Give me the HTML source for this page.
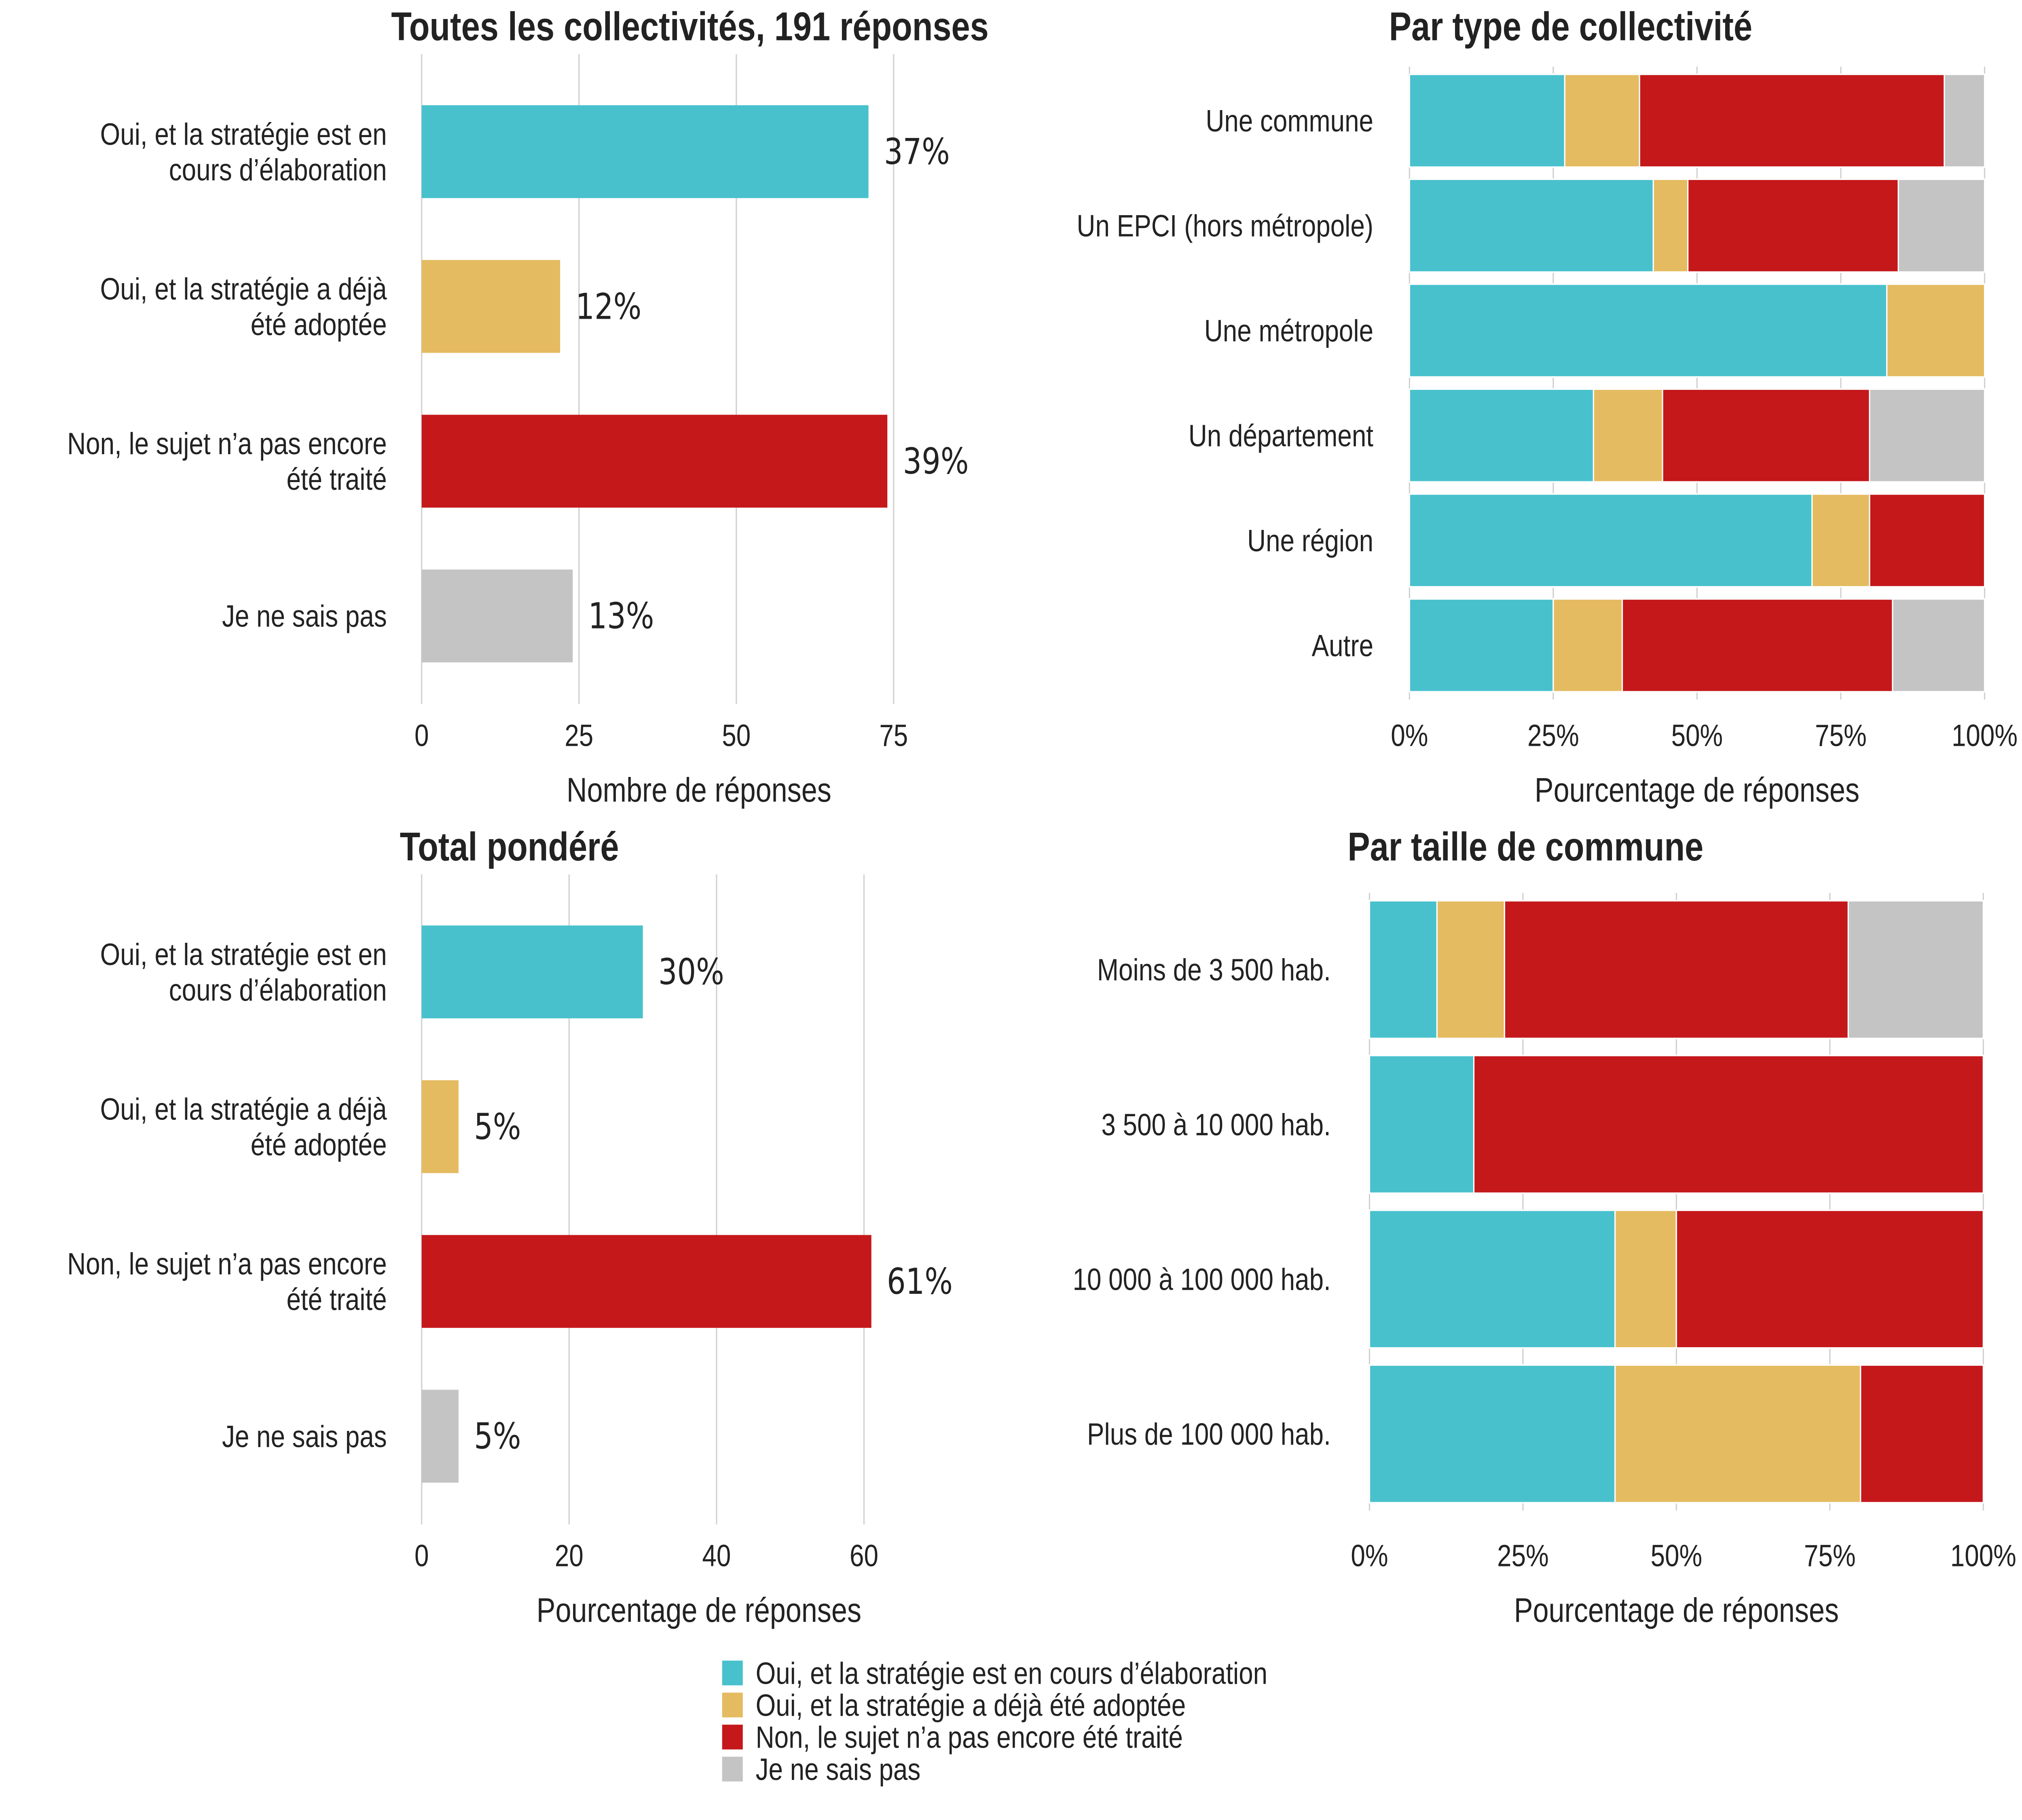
<!DOCTYPE html>
<html><head><meta charset="utf-8"><style>
html,body{margin:0;padding:0;background:#fff;overflow:hidden;width:100vw;height:100vh;}
svg{display:block;width:100vw;height:100vh;}
text{font-family:"Liberation Sans",sans-serif;fill:#222;}
</style></head><body>
<svg id="c" viewBox="0 0 1568 1176" preserveAspectRatio="none" xmlns="http://www.w3.org/2000/svg"></svg>
<script>
const colors=["#48c1cd","#e4bb60","#c4181b","#c4c4c4"];
const seriesNames=["Oui, et la stratégie est en cours d’élaboration","Oui, et la stratégie a déjà été adoptée","Non, le sujet n’a pas encore été traité","Je ne sais pas"];
const leftCats=[["Oui, et la stratégie est en","cours d’élaboration"],["Oui, et la stratégie a déjà","été adoptée"],["Non, le sujet n’a pas encore","été traité"],["Je ne sais pas"]];
const countValues=[71,22,74,24];
const countLabels=["37%","12%","39%","13%"];
const countTicks=[0,25,50,75];
const weightedValues=[30,5,61,5];
const weightedLabels=["30%","5%","61%","5%"];
const weightedTicks=[0,20,40,60];
const typeCats=["Une commune","Un EPCI (hors métropole)","Une métropole","Un département","Une région","Autre"];
const typeOui=[27,42.4,83,32,70,25];
const typeAdopt=[13,6,17,12,10,12];
const typeNon=[53,36.6,0,36,20,47];
const typeNsp=[7,15,0,20,0,16];
const sizeCats=["Moins de 3 500 hab.","3 500 à 10 000 hab.","10 000 à 100 000 hab.","Plus de 100 000 hab."];
const sizeOui=[11,17,40,40];
const sizeAdopt=[11,0,10,40];
const sizeNon=[56,83,50,20];
const sizeNsp=[22,0,0,0];
const pctTicks=[0,25,50,75,100];

const svg=document.getElementById('c');
const NS="http://www.w3.org/2000/svg";
function el(tag,attrs,parent,txt){const e=document.createElementNS(NS,tag);for(const k in attrs)e.setAttribute(k,attrs[k]);if(txt!==undefined)e.textContent=txt;(parent||svg).appendChild(e);return e;}
function group(name){const g=el('g',{});return g;}

function simplePanel(name,title,titleX,top,values,labels,ticks,xTitle){
  const g=group(name);
  const x0=327,pxPer=(name==='panel-count')?(693-327)/75:(670-327)/60;
  const xs=v=>x0+v*pxPer;
  const t=el('text',{x:titleX,y:top+34,'text-anchor':'middle','font-size':26,'font-weight':'bold'},g,title);
  
  ticks.forEach(tk=>{
    const l=el('line',{x1:xs(tk),x2:xs(tk),y1:top+43,y2:top+463,stroke:'#d0d0d0','stroke-width':1},g);
    
    const tl=el('text',{x:xs(tk),y:top+490,'text-anchor':'middle','font-size':20},g,String(tk));
    
  });
  values.forEach((v,i)=>{
    const cy=top+106+i*100;
    const r=el('rect',{x:x0,y:cy-30,width:xs(v)-x0,height:60,fill:colors[i]},g);
    
    const vl=el('text',{x:xs(v)+12,y:cy+8,'font-size':23,style:'font-family:"DejaVu Sans",sans-serif'},g,labels[i]);
    
    const lines=leftCats[i];
    lines.forEach((ln,j)=>{
      const yy=cy+7+(j-(lines.length-1)/2)*23;
      const cl=el('text',{x:300,y:yy,'text-anchor':'end','font-size':20},g,ln);
      
    });
  });
  const xt=el('text',{x:542,y:top+526,'text-anchor':'middle','font-size':22},g,xTitle);
  
}

function stackPanel(name,title,titleX,top,x0,x1,cats,series,rowTop,rowStep,rowH,xTitle,labelX){
  const g=group(name);
  const xs=v=>x0+v/100*(x1-x0);
  const t=el('text',{x:titleX,y:top+34,'text-anchor':'middle','font-size':26,'font-weight':'bold'},g,title);
  
  pctTicks.forEach(tk=>{
    const l=el('line',{x1:xs(tk),x2:xs(tk),y1:rowTop-5,y2:rowTop+rowStep*(cats.length-1)+rowH+5,stroke:'#d0d0d0','stroke-width':1},g);
    
    const tl=el('text',{x:xs(tk),y:top+490,'text-anchor':'middle','font-size':20},g,tk+'%');
    
  });
  cats.forEach((c,i)=>{
    const y=rowTop+i*rowStep;let acc=0;
    series.forEach((s,k)=>{
      const v=s[i];
      if(v>0){const r=el('rect',{x:xs(acc),y:y,width:xs(acc+v)-xs(acc),height:rowH,fill:colors[k],stroke:'#fff','stroke-width':1},g);
      }
      acc+=v;
    });
    const cl=el('text',{x:labelX,y:y+rowH/2+7,'text-anchor':'end','font-size':20},g,c);
    
  });
  const xt=el('text',{x:(x0+x1)/2,y:top+526,'text-anchor':'middle','font-size':22},g,xTitle);
  
}

simplePanel('panel-count','Toutes les collectivités, 191 réponses',535,-8,countValues,countLabels,countTicks,'Nombre de réponses');
simplePanel('panel-weighted','Total pondéré',395,522,weightedValues,weightedLabels,weightedTicks,'Pourcentage de réponses');
stackPanel('panel-type','Par type de collectivité',1218,-8,1093,1539,typeCats,[typeOui,typeAdopt,typeNon,typeNsp],48,67.8,60,'Pourcentage de réponses',1065);
stackPanel('panel-size','Par taille de commune',1183,522,1062,1538,sizeCats,[sizeOui,sizeAdopt,sizeNon,sizeNsp],582,100,89,'Pourcentage de réponses',1032);

const lg=group('legend');
seriesNames.forEach((n,i)=>{
  const y=1073+i*20.7;
  const r=el('rect',{x:560,y:y,width:16,height:16,fill:colors[i]},lg);
  
  const t=el('text',{x:586,y:y+15,'font-size':20},lg,n);
  
});
</script>
</body></html>
